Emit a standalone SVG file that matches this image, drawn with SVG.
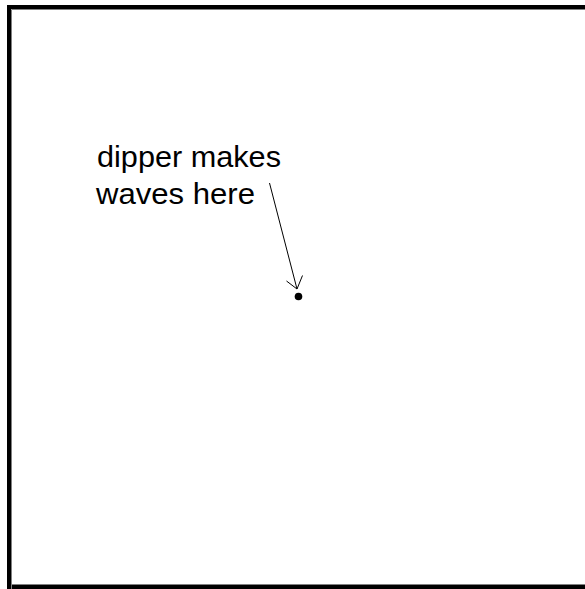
<svg xmlns="http://www.w3.org/2000/svg" width="585" height="589" viewBox="0 0 585 589">
<style>
.lbl{font-family:"Liberation Sans",Arial,sans-serif;font-size:30px;fill:#000}
.conn{stroke:#000;stroke-width:1;fill:none}
</style>
<rect x="0" y="0" width="585" height="589" fill="#fff"/>
<g id="frame">
<rect x="9" y="7" width="600" height="580" fill="none" stroke="#000" stroke-width="4"/>
<path d="M11.5 600 V9.5 H600 M11.5 584.5 H600" fill="none" stroke="#808080" stroke-width="1"/>
</g>
<g id="label">
<text class="lbl" x="97" y="167" textLength="184" lengthAdjust="spacingAndGlyphs">dipper makes</text>
<text class="lbl" x="96" y="204" textLength="159" lengthAdjust="spacingAndGlyphs">waves here</text>
</g>
<g id="connectors">
<path class="conn" d="M269.5 183 L297 289 M286.5 281 L297 289 L302.5 275.5"/>
</g>
<g id="dipper-point">
<circle cx="298.5" cy="296.5" r="3.8" fill="#000"/>
</g>
</svg>
